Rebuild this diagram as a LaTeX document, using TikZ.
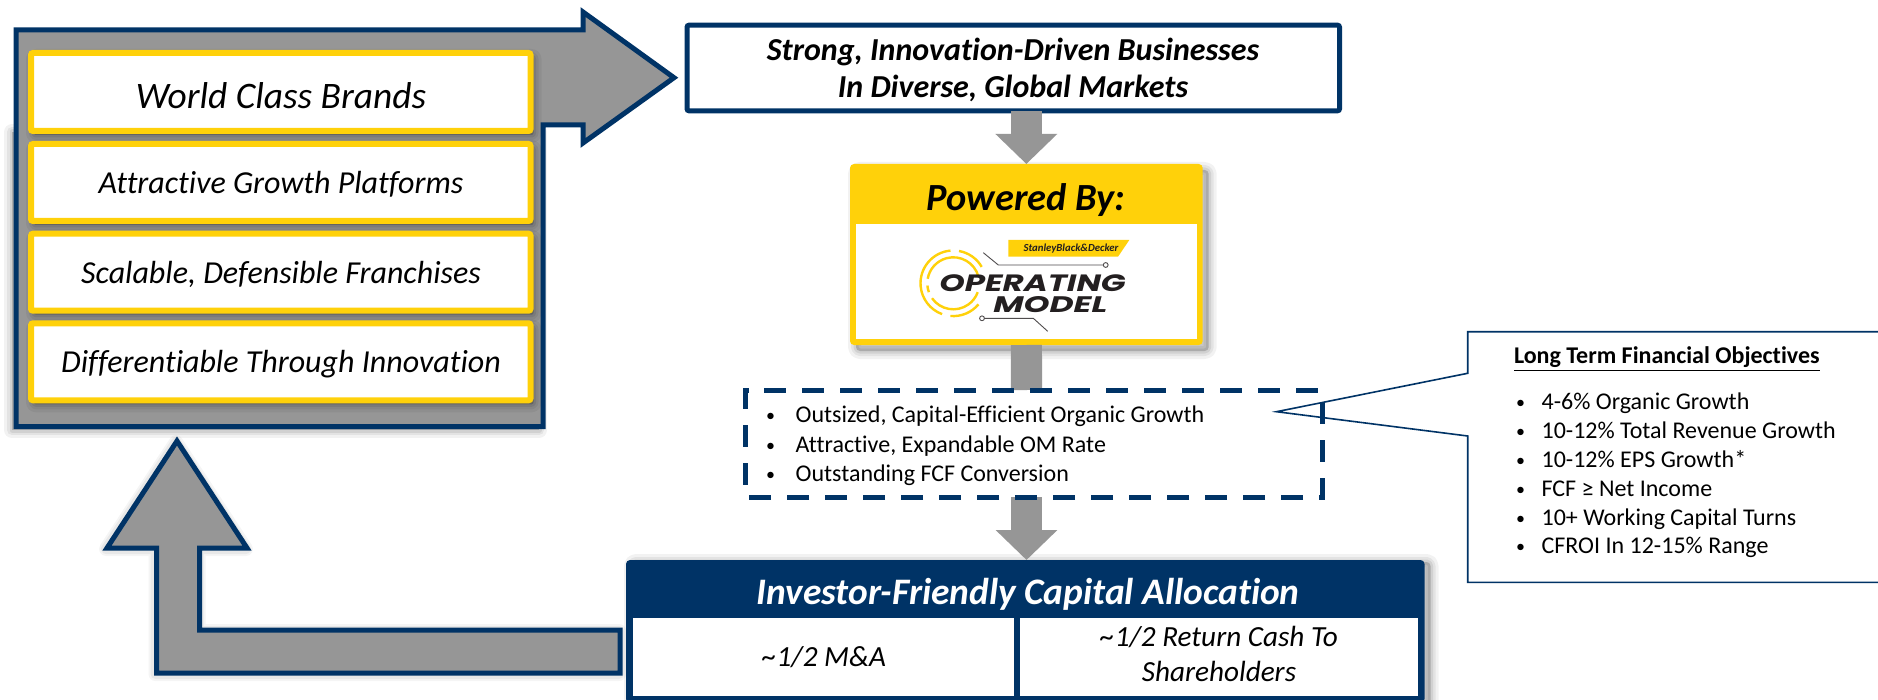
\documentclass[tikz,border=0pt]{standalone}
\usepackage{fontspec}
\setmainfont{Carlito}[Ligatures={TeX,NoCommon}]
\newfontfamily\logofont{Poppins}
\usetikzlibrary{arrows.meta}
\definecolor{sbnavy}{RGB}{0,51,102}
\definecolor{sbyellow}{RGB}{255,209,10}
\definecolor{sbgrey}{RGB}{150,150,150}
\definecolor{logodark}{RGB}{35,31,32}
\newcommand{\fsz}[1]{\fontsize{#1pt}{#1pt}\selectfont}
\newcommand{\pxnode}[7]{%
  \pgfmathsetmacro\pxX{(#2+#4)/2}%
  \pgfmathsetmacro\pxY{(#3+#5)/2}%
  \pgfmathsetmacro\pxW{(#4-#2)/2}%
  \pgfmathsetmacro\pxH{(#5-#3)/2}%
  \node[#6,minimum width=\pxW pt,minimum height=\pxH pt] (#1) at (\pxX,\pxY) {#7};}
\tikzset{
  softshadow/.style 2 args={
    preaction={draw=black,fill=black,opacity=.05,line width=8pt,line join=round,transform canvas={shift={(#1,#2)}}},
    preaction={draw=black,fill=black,opacity=.06,line width=5pt,line join=round,transform canvas={shift={(#1,#2)}}},
    preaction={draw=black,fill=black,opacity=.08,line width=2.5pt,line join=round,transform canvas={shift={(#1,#2)}}}},
  faintshadow/.style={
    preaction={draw=black,opacity=.04,line width=7pt,line join=round,transform canvas={shift={(-0.5pt,-0.5pt)}}},
    preaction={draw=black,opacity=.05,line width=5pt,line join=round,transform canvas={shift={(-0.5pt,-0.5pt)}}}},
  anybox/.style={rectangle,inner sep=0pt,outer sep=0pt},
  yellowbox/.style={anybox,fill=white,draw=sbyellow,line width=3pt,rounded corners=1pt,softshadow={1.5pt}{-2pt}},
  navyline/.style={anybox,fill=white,draw=sbnavy,line width=2.5pt,rounded corners=1pt},
  yellowfill/.style={anybox,fill=sbyellow,rounded corners=2pt,softshadow={3pt}{-3pt}},
  navyfill/.style={anybox,fill=sbnavy,rounded corners=2pt,softshadow={3pt}{-1pt}},
  whitecell/.style={anybox,fill=white},
  blockshape/.style={fill=sbgrey,draw=sbnavy,line width=2.5pt,miter limit=10},
  flowarrow/.style={draw=sbgrey,line width=15.6pt,-{Triangle[length=15pt,width=30pt]}},
  flowshaft/.style={draw=sbgrey,line width=15.6pt},
  dashedframe/.style={draw=sbnavy,line width=2.5pt,dash pattern=on 11pt off 8pt},
  calloutline/.style={fill=white,draw=sbnavy,line width=0.8pt},
  brandtext/.style={anybox,anchor=base,font=\itshape\fsz{16}},
  celltext/.style={anybox,anchor=base,font=\itshape\fsz{14.6}},
  headtext/.style={anybox,anchor=base,font=\bfseries\itshape\fsz{16}},
  itemtext/.style={anybox,anchor=base west,font=\fsz{12}},
  objtext/.style={anybox,anchor=base west,font=\fsz{12}},
  logoline/.style={draw=logodark!80,line width=0.45pt},
  logoring/.style={draw=sbyellow,line width=1.2pt},
}
\newcommand{\smallbullet}{\raisebox{0.5pt}{\fsz{9}\textbullet}}
\newcommand{\bitem}[1]{\makebox[14.8pt][l]{\smallbullet}#1}
\newcommand{\oitem}[1]{\makebox[12.8pt][l]{\smallbullet}#1}
\begin{document}
\begin{tikzpicture}[x=0.5pt,y=-0.5pt]
\useasboundingbox (0,0) rectangle (1878,700);
\fill[white] (0,0) rectangle (1878,700);

% left panel with its big arrow
\path[fill=sbnavy,softshadow={-2pt}{-2pt}] (16,128) rectangle (543,426);
\draw[blockshape] (16,30) -- (583,30) -- (583,12) -- (674,77.7) -- (583,143) -- (583,125) -- (543,125) -- (543,426.5) -- (16,426.5) -- cycle;

\pxnode{brandA}{31}{53}{530.5}{131}{yellowbox}{}
\pxnode{brandB}{31}{144}{530.5}{221}{yellowbox}{}
\pxnode{brandC}{31}{233.7}{530.5}{310.7}{yellowbox}{}
\pxnode{brandD}{31}{323.3}{530.5}{400.3}{yellowbox}{}
\node[brandtext,font=\itshape\fsz{18.7}] (brandAt) at (281,108.5) {World Class Brands};
\node[brandtext] (brandBt) at (281,193.7) {Attractive Growth Platforms};
\node[brandtext] (brandCt) at (281,284) {Scalable, Defensible Franchises};
\node[brandtext] (brandDt) at (281,372.7) {Differentiable Through Innovation};

% return arrow
\draw[blockshape,faintshadow] (620,630) -- (199.5,630) -- (199.5,548) -- (247,548) -- (177,441) -- (107,548) -- (156.5,548) -- (156.5,673) -- (620,673) -- cycle;

% callout
\draw[calloutline] (1878,331.7) -- (1467.7,331.7) -- (1467.7,373.3) -- (1276.5,411.7) -- (1467.7,436) -- (1467.7,582.3) -- (1878,582.3);

% boxes of the central column
\pxnode{topbox}{687}{25.2}{1339.5}{110.8}{navyline}{}
\pxnode{powered}{850}{164}{1202.7}{345}{yellowfill}{}
\pxnode{poweredW}{856}{224}{1197}{339}{whitecell}{}
\coordinate (dashtop) at (1026.5,390);
\coordinate (dashbot) at (1026.5,497);
\pxnode{navy}{626}{560}{1424.5}{703}{navyfill}{}
\pxnode{cellL}{633}{617.7}{1014}{695.7}{whitecell}{}
\pxnode{cellR}{1020}{617.7}{1418}{695.7}{whitecell}{}

% connectors
\draw[flowarrow] (topbox.south -| powered.north) -- (powered.north);
\draw[flowshaft] (powered.south) -- (dashtop);
\draw[flowarrow] (dashbot) -- (dashbot |- navy.north);

\node[headtext] (topA) at (1013,61) {Strong, Innovation-Driven Businesses};
\node[headtext] (topB) at (1013,98) {In Diverse, Global Markets};
\node[headtext,font=\bfseries\itshape\fsz{19.2}] (powt) at (1026,211) {Powered By:};

% logo
\fill[sbyellow] (1008.3,240) -- (1129.3,240) -- (1118,256.7) -- (1008.3,256.7) -- cycle;
\node[anybox,anchor=center] (logoA) at (1071,248.3) {\resizebox{47.5pt}{!}{\bfseries\itshape\color{logodark}StanleyBlack\&Decker}};
\draw[logoline] (983.3,252.7) -- (998.3,265) -- (1103.3,265);
\draw[logoline] (1105.7,265) circle[radius=1.2pt];
\draw[logoline] (984.3,318.3) -- (1033.3,318.3) -- (1047.7,331.3);
\draw[logoline] (982,318.3) circle[radius=1.2pt];
\foreach \a/\b in {30/80,95/250,265/320}
  \draw[logoring] (953.3,283.3) ++(\a:16.4pt) arc[start angle=\a,end angle=\b,radius=16.4pt];
\foreach \a/\b in {15/170,185/200,215/340}
  \draw[logoring] (953.3,283.3) ++(\a:13pt) arc[start angle=\a,end angle=\b,radius=13pt];
\node[anybox,anchor=west] (logoB) at (939.3,283.4) {\resizebox{93.2pt}{8.4pt}{\logofont\bfseries\itshape\color{logodark}OPERATING}};
\node[anybox,anchor=west] (logoC) at (993.3,304.7) {\resizebox{57pt}{8pt}{\logofont\bfseries\itshape\color{logodark}MODEL}};

% dashed frame
\draw[dashedframe] (764,390) -- (1322,390) -- (1322,497) -- (745.5,497) -- (745.5,390) -- (764,390);
\node[itemtext] (itA) at (766,422.7) {\bitem{Outsized, Capital-Efficient Organic Growth}};
\node[itemtext] (itB) at (766,452) {\bitem{Attractive, Expandable OM Rate}};
\node[itemtext] (itC) at (766,481) {\bitem{Outstanding FCF Conversion}};

% capital allocation
\node[headtext,font=\bfseries\itshape\fsz{18.7},text=white] (navyt) at (1028,604.5) {Investor-Friendly Capital Allocation};
\node[celltext] (cellLt) at (824,666) {\textasciitilde 1/2 M\&A};
\node[celltext] (cellRa) at (1219,646) {\textasciitilde 1/2 Return Cash To};
\node[celltext] (cellRb) at (1219,681) {Shareholders};

% objectives
\node[objtext,font=\bfseries\fsz{12}] (objT) at (1514,363.5) {\underline{Long Term Financial Objectives}};
\node[objtext] (ob1) at (1516,409) {\oitem{4-6\% Organic Growth}};
\node[objtext] (ob2) at (1516,438) {\oitem{10-12\% Total Revenue Growth}};
\node[objtext] (ob3) at (1516,467) {\oitem{10-12\% EPS Growth*}};
\node[objtext] (ob4) at (1516,496) {\oitem{FCF ≥ Net Income}};
\node[objtext] (ob5) at (1516,525) {\oitem{10+ Working Capital Turns}};
\node[objtext] (ob6) at (1516,553.7) {\oitem{CFROI In 12-15\% Range}};
\end{tikzpicture}
\end{document}
